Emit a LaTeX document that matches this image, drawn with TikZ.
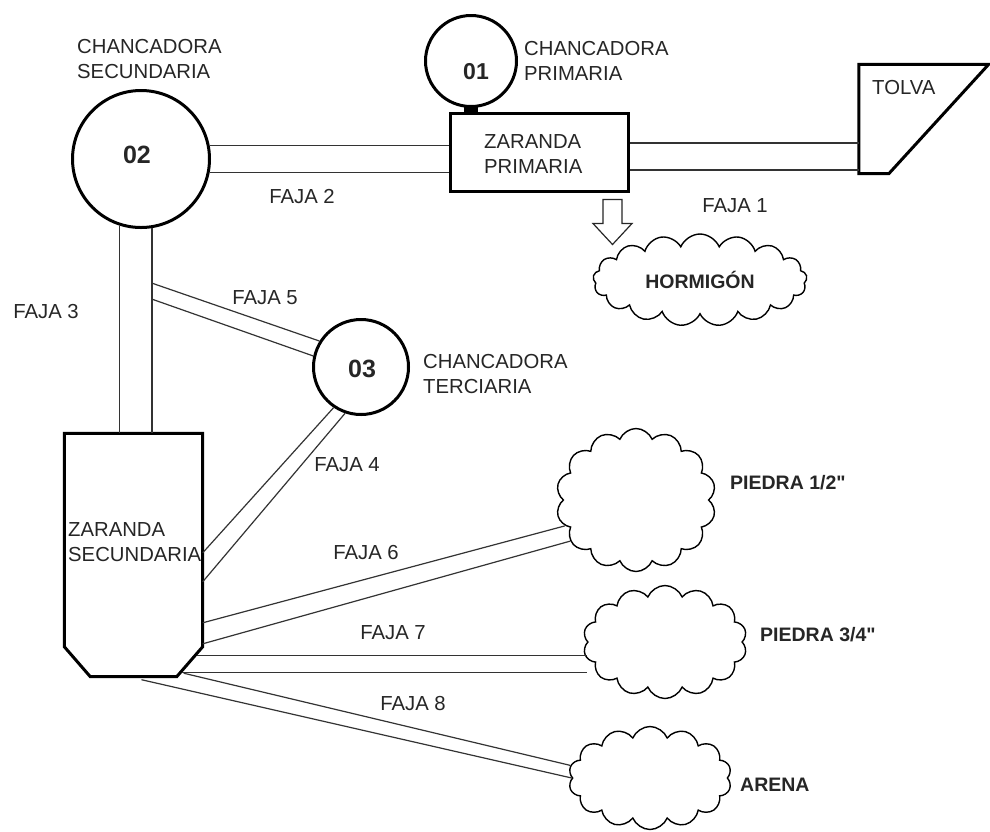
\documentclass[tikz,border=0pt]{standalone}
\usepackage{fontspec}
\setmainfont{Liberation Sans}
\usetikzlibrary{shapes.symbols,calc}
\newcommand{\straightquote}{{\addfontfeatures{Ligatures=TeXOff}\symbol{34}}}
\tikzset{
  lbl/.style={font=\fontsize{20.3}{25}\selectfont, inner sep=0pt, align=left, text=black!85},
  bfont/.style={font=\bfseries\fontsize{19.5}{24}\selectfont, text=black!85},
  blbl/.style={bfont, inner sep=0pt},
  numlbl/.style={font=\bfseries\fontsize{#1}{#1}\selectfont, inner sep=0pt, text=black!85},
  crusher/.style={circle, draw, line width=3pt, inner sep=0pt},
  unitbox/.style={draw, line width=3pt, inner sep=0pt},
  ghost/.style={inner sep=0pt},
  band/.style={line width=1.2pt, draw=black!80},
  pile/.style={cloud, draw, cloud puffs=14, cloud puff arc=135, cloud ignores aspect, inner sep=0pt, line width=1.4pt}
}
\begin{document}
\begin{tikzpicture}[x=1pt,y=-1pt]
\fill[white] (0,0) rectangle (990,831);
\useasboundingbox (0,0) rectangle (990,831);

% crushers
\node[crusher, minimum size=137pt] (c02) at (141,159) {};
\node[numlbl=25] (n02) at (137,155) {02};
\node[crusher, minimum size=91pt] (c01) at (471,61) {};
\node[numlbl=23] (n01) at (476,72) {01};
\node[crusher, minimum size=95pt] (c03) at (361,367) {};
\node[numlbl=25] (n03) at (362,369) {03};

\node[lbl, anchor=west] (t02) at (77,59.5) {CHANCADORA\\SECUNDARIA};
\node[lbl, anchor=west] (t01) at (524,60.5) {CHANCADORA\\PRIMARIA};
\node[lbl, anchor=west] (t03) at (423,374.5) {CHANCADORA\\TERCIARIA};

% zaranda primaria
\node[unitbox, minimum width=178pt, minimum height=78pt] (zp) at (539.5,152.5) {};
\node[lbl, anchor=west] (zpt) at (484,154.5) {ZARANDA\\PRIMARIA};
\fill ($(c01.south)+(-7,-2)$) rectangle ($(c01.south |- zp.north)+(7,0)$);

% tolva
\node[ghost, minimum width=129.5pt, minimum height=109pt] (tolva) at (923.75,119) {};
\draw[line width=3pt] (tolva.north west) -- (tolva.north east) -- ($(tolva.south west)+(30,0)$) -- (tolva.south west) -- cycle;
\node[lbl, anchor=west] (tolvat) at (872,88) {TOLVA};

% zaranda secundaria
\node[ghost, minimum width=138pt, minimum height=243pt] (zs) at (133.5,555) {};
\draw[line width=3pt] (zs.north west) -- (zs.north east) -- ($(zs.south east)+(0,-30)$) -- ($(zs.south east)+(-26,0)$) -- ($(zs.south west)+(26,0)$) -- ($(zs.south west)+(0,-30)$) -- cycle;
\node[lbl, anchor=west] (zst) at (68,542) {ZARANDA\\SECUNDARIA};

% piles
\node[pile, bfont, cloud puffs=17, minimum width=214pt, minimum height=92pt] (cH) at (700,280) {HORMIGÓN};
\node[pile, minimum width=160pt, minimum height=143pt] (c12) at (636,500) {};
\node[pile, minimum width=164pt, minimum height=113pt] (c34) at (665,642) {};
\node[pile, minimum width=163pt, minimum height=103pt] (cA) at (650,778) {};
\node[blbl, anchor=west] (t12) at (730,483) {PIEDRA 1/2\straightquote};
\node[blbl, anchor=west] (t34) at (760,635) {PIEDRA 3/4\straightquote};
\node[blbl, anchor=west] (tA) at (740,785) {ARENA};

% arrow to hormigon
\coordinate (ar) at ($(zp.south)+(73,6.5)$);
\draw[line width=1.2pt, draw=black!85] (ar) ++(-9.5,0) -- ++(19,0) -- ++(0,24) -- ++(10,0) -- ++(-19.5,21) -- ++(-19.5,-21) -- ++(10,0) -- cycle;

% faja 1
\path ($(zp.east)+(0,-9.5)$) coordinate (f1a) ($(zp.east)+(0,17.5)$) coordinate (f1b);
\draw[band] (f1a) -- (f1a -| tolva.west) (f1b) -- (f1b -| tolva.west);
% faja 2
\draw[band] (c02.11.8) -- (c02.11.8 -| zp.west) (c02.-11.8) -- (c02.-11.8 -| zp.west);
% faja 3
\draw[band] (c02.-108.7) -- (c02.-108.7 |- zs.north) (c02.-81.6) -- (c02.-81.6 |- zs.north);
% faja 5
\path ($(c02.-81.6)+(0,55)$) coordinate (f5a) ($(c02.-81.6)+(0,71)$) coordinate (f5b);
\draw[band] (f5a) -- (c03.148.5) (f5b) -- (c03.167.4);
% faja 4
\draw[band] (c03.-124) -- ($(zs.north east)+(0,119.5)$) (c03.-109.4) -- ($(zs.north east)+(0,148.5)$);
% faja 6
\draw[band] ($(zs.north east)+(0,189.5)$) -- (c12.-160.9) ($(zs.north east)+(0,210.5)$) -- (c12.-148.1);
% faja 7
\path ($(zs.south east)+(-6,-21.5)$) coordinate (f7a) ($(zs.south east)+(-21,-4.5)$) coordinate (f7b);
\draw[band] (f7a) -- (f7a -| c34.west) (f7b) -- (f7b -| c34.west);
% faja 8
\draw[band] ($(zs.south east)+(-19,-3.5)$) -- (cA.171) ($(zs.south)+(8,3)$) -- (cA.west);

% belt labels
\node[lbl] (l1) at (735,206) {FAJA 1};
\node[lbl] (l2) at (302,197) {FAJA 2};
\node[lbl] (l3) at (46,312) {FAJA 3};
\node[lbl] (l4) at (347,465) {FAJA 4};
\node[lbl] (l5) at (265,298) {FAJA 5};
\node[lbl] (l6) at (366,552) {FAJA 6};
\node[lbl] (l7) at (393,633) {FAJA 7};
\node[lbl] (l8) at (413,703) {FAJA 8};
\end{tikzpicture}
\end{document}
